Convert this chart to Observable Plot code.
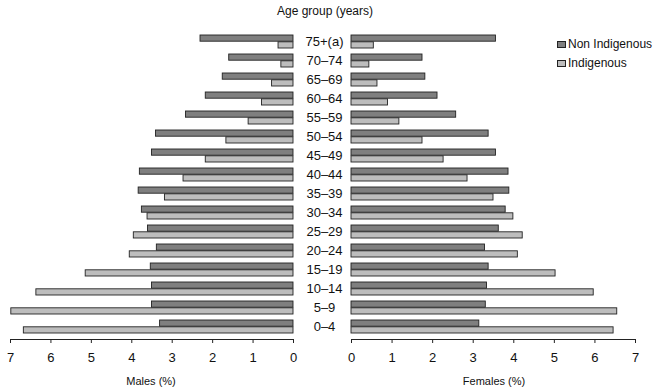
<!DOCTYPE html>
<html>
<head>
<meta charset="utf-8">
<script src="https://cdn.jsdelivr.net/npm/d3@7"></script>
<script src="https://cdn.jsdelivr.net/npm/@observablehq/plot@0.6"></script>
<style>
  html, body { margin: 0; padding: 0; background: #fff; }
  #wrap { position: relative; width: 658px; height: 392px; font-family: "Liberation Sans", Arial, sans-serif; color: #111; }
  .abs { position: absolute; white-space: nowrap; }
  .pane { position: absolute; top: 0; overflow: visible; }
  .sw { position: absolute; width: 9px; height: 7px; border: 1px solid #222; box-sizing: border-box; }
</style>
</head>
<body>
<div id="wrap"></div>
<script>
// Age groups, top to bottom
const ageGroups = ["75+(a)", "70–74", "65–69", "60–64", "55–59", "50–54", "45–49", "40–44",
                   "35–39", "30–34", "25–29", "20–24", "15–19", "10–14", "5–9", "0–4"];
const xTicks = [0, 1, 2, 3, 4, 5, 6, 7];
// Males (%)
const malesNonIndigenous = [2.30, 1.59, 1.75, 2.17, 2.66, 3.40, 3.50, 3.80, 3.83, 3.75, 3.60, 3.38, 3.53, 3.50, 3.50, 3.30];
const malesIndigenous    = [0.37, 0.30, 0.53, 0.78, 1.11, 1.66, 2.17, 2.72, 3.18, 3.61, 3.95, 4.05, 5.14, 6.36, 6.98, 6.67];
// Females (%)
const femalesNonIndigenous = [3.56, 1.75, 1.82, 2.12, 2.58, 3.38, 3.56, 3.87, 3.89, 3.80, 3.63, 3.29, 3.38, 3.34, 3.31, 3.15];
const femalesIndigenous    = [0.55, 0.44, 0.64, 0.90, 1.18, 1.75, 2.27, 2.86, 3.50, 3.99, 4.22, 4.10, 5.03, 5.97, 6.55, 6.46];
const seriesNames = ["Non Indigenous", "Indigenous"];
const seriesColors = ["#7f7f7f", "#bdbdbd"];

const H = 392, MT = 30, MB = 53, PAD = 0.3, PADO = 0.1;
const step = (H - MT - MB) / (ageGroups.length - PAD + 2 * PADO);
const half = step * (1 - PAD) / 2;

function rows(non, ind) {
  return ageGroups.map((a, i) => ({age: a, non: non[i], ind: ind[i]}));
}

function pane(data, opts) {
  return Plot.plot({
    width: opts.width, height: H,
    marginTop: MT, marginBottom: MB, marginLeft: opts.ml, marginRight: opts.mr,
    style: {fontFamily: "Liberation Sans, Arial, sans-serif", fontSize: "13px", color: "#111", background: "transparent", overflow: "visible"},
    x: {domain: [0, 7], reverse: opts.reverse, ticks: xTicks},
    y: {domain: ageGroups, padding: PAD, paddingOuter: PADO},
    marks: [
      Plot.barX(data, {y: "age", x: "non", fill: seriesColors[0], stroke: "#222", strokeWidth: 0.9, insetBottom: half, insetTop: 0}),
      Plot.barX(data, {y: "age", x: "ind", fill: seriesColors[1], stroke: "#222", strokeWidth: 0.9, insetTop: half, insetBottom: 0}),
      Plot.frame({anchor: "bottom", stroke: "#222"}),
      Plot.axisX({ticks: xTicks, tickFormat: d3.format("d"), tickSize: 4, tickPadding: 9, label: null, fontSize: 13, stroke: "#222"}),
      opts.labels
        ? Plot.axisY({anchor: "left", tickSize: 0, tickPadding: opts.ml - 24, textAnchor: "middle", label: null, fontSize: 13})
        : Plot.axisY({ticks: [], label: null})
    ]
  });
}

const wrap = document.getElementById("wrap");
const right = pane(rows(femalesNonIndigenous, femalesIndigenous), {width: 358, ml: 51, mr: 23, reverse: false, labels: true});
right.classList.add("pane"); right.style.left = "300px";
const left = pane(rows(malesNonIndigenous, malesIndigenous), {width: 312, ml: 10, mr: 19, reverse: true, labels: false});
left.classList.add("pane"); left.style.left = "0px";
wrap.appendChild(right);
wrap.appendChild(left);

function addText(txt, x, y, size, anchor) {
  const d = document.createElement("div");
  d.className = "abs";
  d.textContent = txt;
  d.style.fontSize = size + "px";
  d.style.lineHeight = "1";
  d.style.top = (y - size / 2) + "px";
  if (anchor === "middle") { d.style.left = x + "px"; d.style.transform = "translateX(-50%)"; }
  else d.style.left = x + "px";
  wrap.appendChild(d);
}
addText("Age group (years)", 325, 11, 12, "middle");
addText("Males (%)", 151, 381, 11, "middle");
addText("Females (%)", 494, 381, 11, "middle");
// legend
seriesNames.forEach((name, i) => {
  const y = 44 + i * 19;
  const s = document.createElement("div");
  s.className = "sw";
  s.style.left = "557px"; s.style.top = (y - 3.5) + "px"; s.style.background = seriesColors[i];
  wrap.appendChild(s);
  addText(name, 568, y, 12, "start");
});
</script>
</body>
</html>
